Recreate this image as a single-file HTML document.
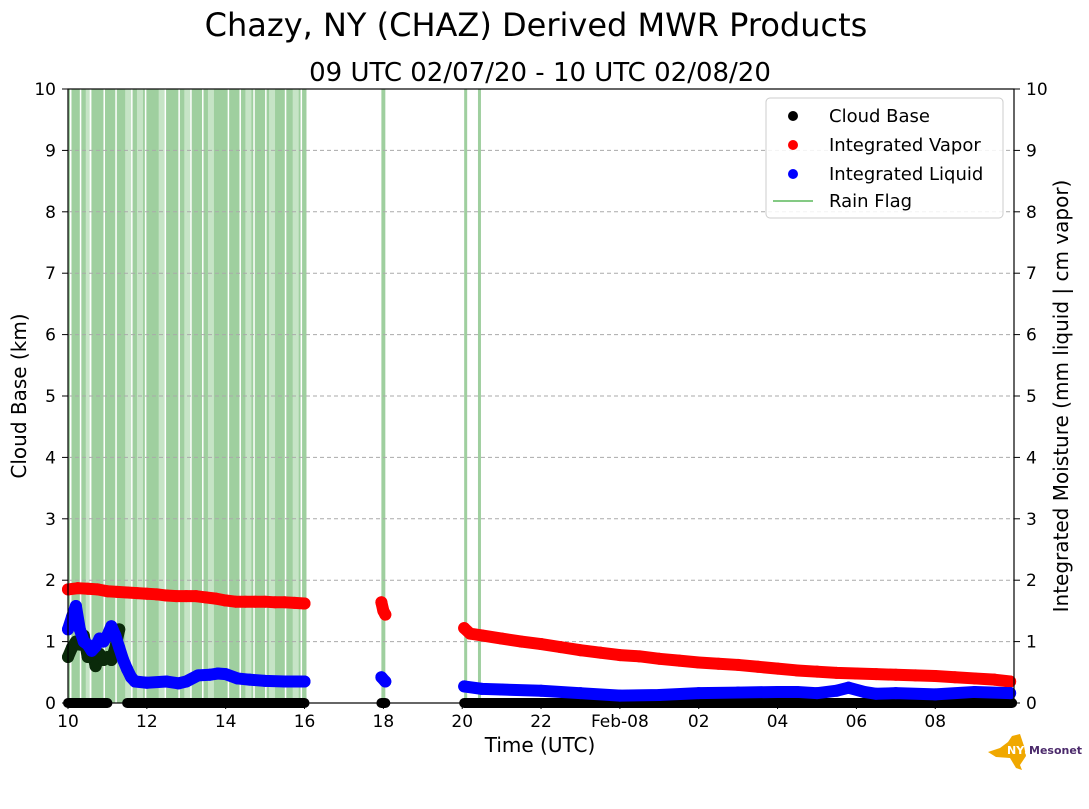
<!DOCTYPE html>
<html><head><meta charset="utf-8"><style>
body{margin:0;background:#fff;font-family:"Liberation Sans","DejaVu Sans",sans-serif;}
svg text{font-family:"DejaVu Sans","Liberation Sans",sans-serif;}
</style></head><body>
<svg id="c" width="1089" height="804" viewBox="0 0 1089 804">
<text x="536" y="36" font-size="32" text-anchor="middle">Chazy, NY (CHAZ) Derived MWR Products</text>
<text x="540" y="81" font-size="26" text-anchor="middle">09 UTC 02/07/20 - 10 UTC 02/08/20</text>
<g id="rain"></g>
<g id="grid"></g>
<g id="marks"></g>
<rect x="68" y="89" width="946" height="614" fill="none" stroke="#000" stroke-width="1.2"/>
<g id="axes"></g>
<text x="540" y="752" font-size="20" text-anchor="middle">Time (UTC)</text>
<text transform="translate(26,396) rotate(-90)" font-size="20" text-anchor="middle">Cloud Base (km)</text>
<text transform="translate(1068,396) rotate(-90)" font-size="20" text-anchor="middle">Integrated Moisture (mm liquid | cm vapor)</text>
<g>
<rect x="766" y="98" width="237" height="120" rx="4" fill="#fff" fill-opacity="0.85" stroke="#ccc"/>
<circle cx="793" cy="116" r="5" fill="#000"/><text x="829" y="122" font-size="18">Cloud Base</text>
<circle cx="793" cy="145" r="5" fill="red"/><text x="829" y="151" font-size="18">Integrated Vapor</text>
<circle cx="793" cy="174" r="5" fill="blue"/><text x="829" y="180" font-size="18">Integrated Liquid</text>
<line x1="773" y1="201" x2="813" y2="201" stroke="#5cb85c" stroke-width="1.5"/><text x="829" y="207" font-size="18">Rain Flag</text>
</g>
<g>
<path d="M988 752 L1000 748 L1008 742 L1012 736 L1020 734 L1024 746 L1026 756 L1020 765 L1022 770 L1016 768 L1010 758 L996 757 Z" fill="#f0a800"/>
<text x="1007" y="754" font-size="11" font-weight="bold" fill="#fff">NYS</text>
<text x="1029" y="754" font-size="11" font-weight="bold" fill="#4b2a6b">Mesonet</text>
</g>
</svg>
<script>
const NS='http://www.w3.org/2000/svg';
const xTickHours=[10,12,14,16,18,20,22,24,26,28,30,32];
const xTickLabels=['10','12','14','16','18','20','22','Feb-08','02','04','06','08'];
const yTicks=[0,1,2,3,4,5,6,7,8,9,10];
const rainSpans=[[10,16.05],[17.95,18.05],[20.05,20.1],[20.4,20.45]];
const rainLight=[10.45,11.45,11.75,12.3,12.95,13.55,14.5,15.1,15.7];
const rainGaps=[10.05,10.3,10.55,10.9,11.2,11.6,11.95,12.45,12.8,13.1,13.4,14.05,14.35,14.7,15.0,15.5,15.9];
const vapT=[10,10.25,10.5,10.75,11,11.25,11.5,11.75,12,12.25,12.5,12.75,13,13.25,13.5,13.75,14,14.25,14.5,14.75,15,15.25,15.5,15.75,16];
const vapV=[1.85,1.87,1.86,1.85,1.82,1.81,1.80,1.79,1.78,1.77,1.75,1.74,1.74,1.74,1.72,1.70,1.67,1.65,1.65,1.65,1.65,1.64,1.64,1.63,1.62];
const vapT2=[17.95,18,18.05,20.05,20.2,20.5,21,21.5,22,22.5,23,23.5,24,24.5,25,25.5,26,26.5,27,27.5,28,28.5,29,29.5,30,30.5,31,31.5,32,32.5,33,33.5,33.9];
const vapV2=[1.64,1.5,1.44,1.22,1.13,1.1,1.05,1.0,0.96,0.91,0.86,0.82,0.78,0.76,0.72,0.69,0.66,0.64,0.62,0.59,0.56,0.53,0.51,0.49,0.48,0.47,0.46,0.45,0.44,0.42,0.40,0.38,0.35];
const liqT=[10,10.1,10.2,10.3,10.4,10.5,10.6,10.7,10.8,10.9,11,11.1,11.2,11.3,11.4,11.5,11.6,11.7,12,12.5,12.8,13,13.3,13.6,13.8,14,14.3,14.6,15,15.5,16];
const liqV=[1.2,1.4,1.58,1.2,1.0,0.95,0.85,0.92,1.05,1.0,1.1,1.25,1.1,0.9,0.7,0.55,0.42,0.35,0.33,0.35,0.32,0.35,0.45,0.46,0.48,0.47,0.40,0.38,0.36,0.35,0.35];
const liqT2=[17.95,18.05,20.05,20.5,21,22,23,24,25,26,27,28,28.5,29,29.5,29.8,30.2,30.5,31,32,33,33.9];
const liqV2=[0.42,0.35,0.27,0.23,0.22,0.2,0.16,0.12,0.13,0.16,0.17,0.18,0.18,0.16,0.2,0.25,0.18,0.15,0.16,0.14,0.18,0.16];
const cbT=[10,10.1,10.2,10.3,10.4,10.5,10.6,10.7,10.8,10.9,11,11.1,11.2,11.3];
const cbV=[0.75,0.9,1.0,0.95,1.1,0.75,0.9,0.6,0.8,0.7,0.75,0.7,0.9,1.2];
const cbZeroSpans=[[10,11],[11.5,16],[17.95,18.05],[20.05,33.95]];
const X=h=>68+(h-10)*39.42, Y=v=>703-v*61.4;
function el(tag,a,p){const e=document.createElementNS(NS,tag);for(const k in a)e.setAttribute(k,a[k]);p.appendChild(e);return e;}
const rain=document.getElementById('rain'),grid=document.getElementById('grid'),marks=document.getElementById('marks'),axes=document.getElementById('axes');
rainSpans.forEach(s=>{const w=Math.max(3,X(s[1])-X(s[0]));const r=el('rect',{x:X(s[0]),y:89,width:w,height:614,fill:'#9fcf9f'},rain);
});
rainLight.forEach(h=>{const r=el('rect',{x:X(h),y:89,width:6,height:614,fill:'#c6e4c6'},rain);
});
rainGaps.forEach(h=>{const r=el('rect',{x:X(h),y:89,width:1.5,height:614,fill:'#fff'},rain);
});
yTicks.forEach(v=>{if(v>0&&v<10){const l=el('line',{x1:68,x2:1014,y1:Y(v),y2:Y(v),stroke:'#aaa','stroke-dasharray':'4 3','stroke-width':1},grid);
}
[[62,68,56,'end'],[1014,1020,1026,'start']].forEach(c=>{el('line',{x1:c[0],x2:c[1],y1:Y(v),y2:Y(v),stroke:'#000'},axes);
const t=el('text',{x:c[2],y:Y(v)+6,'font-size':17,'text-anchor':c[3]},axes);t.textContent=v;
});});
xTickHours.forEach((h,i)=>{el('line',{x1:X(h),x2:X(h),y1:703,y2:709,stroke:'#000'},axes);
const t=el('text',{x:X(h),y:727,'font-size':17,'text-anchor':'middle'},axes);t.textContent=xTickLabels[i];
});
function series(T,V,col,name){const pts=T.map((t,i)=>X(t)+','+Y(V[i]));
const segs=[];let cur=[];T.forEach((t,i)=>{if(i>0&&t-T[i-1]>1){segs.push(cur);cur=[];}cur.push(pts[i]);});segs.push(cur);
segs.forEach(s=>{const p=el('polyline',{points:s.join(' '),fill:'none',stroke:col,'stroke-width':12,'stroke-linejoin':'round','stroke-linecap':'round'},marks);
});
T.forEach((t,i)=>{const c=el('circle',{cx:X(t),cy:Y(V[i]),r:6,fill:col},marks);
});}
cbZeroSpans.forEach(s=>{const p=el('line',{x1:X(s[0]),x2:X(s[1]),y1:703,y2:703,stroke:'#000','stroke-width':10,'stroke-linecap':'round'},marks);
});
series(cbT,cbV,'#0a2a0a','cloud-base');
series(vapT,vapV,'red','integrated-vapor');
series(vapT2,vapV2,'red','integrated-vapor');
series(liqT,liqV,'blue','integrated-liquid');
series(liqT2,liqV2,'blue','integrated-liquid');
</script>
</body></html>
